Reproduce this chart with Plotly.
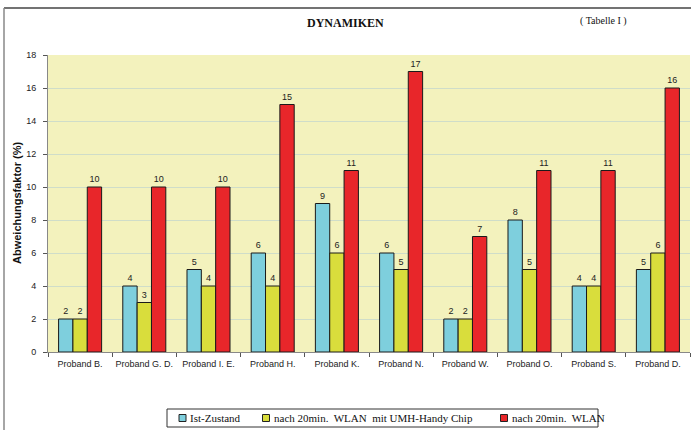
import plotly.graph_objects as go

categories = ["Proband B.", "Proband G. D.", "Proband I. E.", "Proband H.", "Proband K.",
              "Proband N.", "Proband W.", "Proband O.", "Proband S.", "Proband D."]
ist_zustand = [2, 4, 5, 6, 9, 6, 2, 8, 4, 5]
umh_chip = [2, 3, 4, 4, 6, 5, 2, 5, 4, 6]
wlan = [10, 10, 10, 15, 11, 17, 7, 11, 11, 16]
series_names = ["Ist-Zustand", "nach 20min.  WLAN  mit UMH-Handy Chip", "nach 20min.  WLAN"]
y_ticks = [0, 2, 4, 6, 8, 10, 12, 14, 16, 18]

colors = ["#7ECFDD", "#D9DD3C", "#E8262A"]
serif = "Liberation Serif, Times New Roman, serif"
sans = "Liberation Sans, Arial, sans-serif"

W, H = 691, 430
ML, MR, MT, MB = 48, 1, 55, 78
pw, ph = W - ML - MR, H - MT - MB


def px(x):
    return (x - ML) / pw


def py(y):
    return (H - MB - y) / ph


fig = go.Figure()
for name, vals, col in zip(series_names, [ist_zustand, umh_chip, wlan], colors):
    fig.add_trace(go.Bar(
        x=categories, y=vals, name=name, showlegend=False,
        marker=dict(color=col, line=dict(color="#1a1a1a", width=1)),
        text=[str(v) for v in vals], textposition="outside",
        textfont=dict(family=sans, size=9, color="#222222"),
        cliponaxis=False,
    ))

annotations = [
    dict(text="<b>DYNAMIKEN</b>", x=px(345), y=py(23), xref="paper", yref="paper",
         xanchor="center", yanchor="middle",
         showarrow=False, font=dict(family=serif, size=12, color="#111111")),
    dict(text="( Tabelle I )", x=px(603), y=py(21), xref="paper", yref="paper",
         xanchor="center", yanchor="middle",
         showarrow=False, font=dict(family=serif, size=10, color="#111111")),
    dict(text="<b>Abweichungsfaktor (%)</b>", x=px(17), y=py(203), xref="paper", yref="paper",
         xanchor="center", yanchor="middle", textangle=-90,
         showarrow=False, font=dict(family=sans, size=11, color="#111111")),
]
shapes = [
    # outer frame (top and left lines)
    dict(type="line", xref="paper", yref="paper", x0=px(4), x1=px(691), y0=py(8), y1=py(8),
         line=dict(color="#444444", width=1.5)),
    dict(type="line", xref="paper", yref="paper", x0=px(4), x1=px(4), y0=py(8), y1=py(430),
         line=dict(color="#888888", width=1.5)),
    # legend box
    dict(type="rect", xref="paper", yref="paper", x0=px(167), x1=px(598), y0=py(409), y1=py(427),
         line=dict(color="#333333", width=1), fillcolor="white"),
]

legend_marker_x = [182.5, 266, 504]
for name, col, mx in zip(series_names, colors, legend_marker_x):
    shapes.append(dict(type="rect", xref="paper", yref="paper",
                       x0=px(mx - 3.5), x1=px(mx + 3.5), y0=py(414.5), y1=py(421.5),
                       line=dict(color="#222222", width=1), fillcolor=col))
    annotations.append(dict(text=name, x=px(mx + 5.5), y=py(418), xref="paper", yref="paper",
                            xanchor="left", yanchor="middle", showarrow=False,
                            font=dict(family=serif, size=11, color="#111111")))

fig.update_layout(
    width=W, height=H,
    margin=dict(l=ML, r=MR, t=MT, b=MB, autoexpand=False),
    paper_bgcolor="white", plot_bgcolor="#F3F2BD",
    barmode="group", bargap=0.33, bargroupgap=0.0,
    showlegend=False,
    xaxis=dict(
        type="category", showgrid=False, ticks="outside", tickson="boundaries",
        ticklen=4, tickcolor="#555555", showline=True, linecolor="#888888",
        tickangle=0, ticklabelstandoff=3,
        tickfont=dict(family=sans, size=9, color="#222222"),
    ),
    yaxis=dict(
        range=[0, 18], tickvals=y_ticks, showgrid=True, gridcolor="#CFDDC9",
        ticks="outside", ticklen=4, tickcolor="#555555",
        showline=True, linecolor="#888888", zeroline=False,
        ticklabelstandoff=5,
        tickfont=dict(family=sans, size=9, color="#222222"),
    ),
    annotations=annotations,
    shapes=shapes,
)

fig.write_html("out.html", config={"displayModeBar": False},
               post_script="document.body.style.margin='0';document.body.style.overflow='hidden';")
